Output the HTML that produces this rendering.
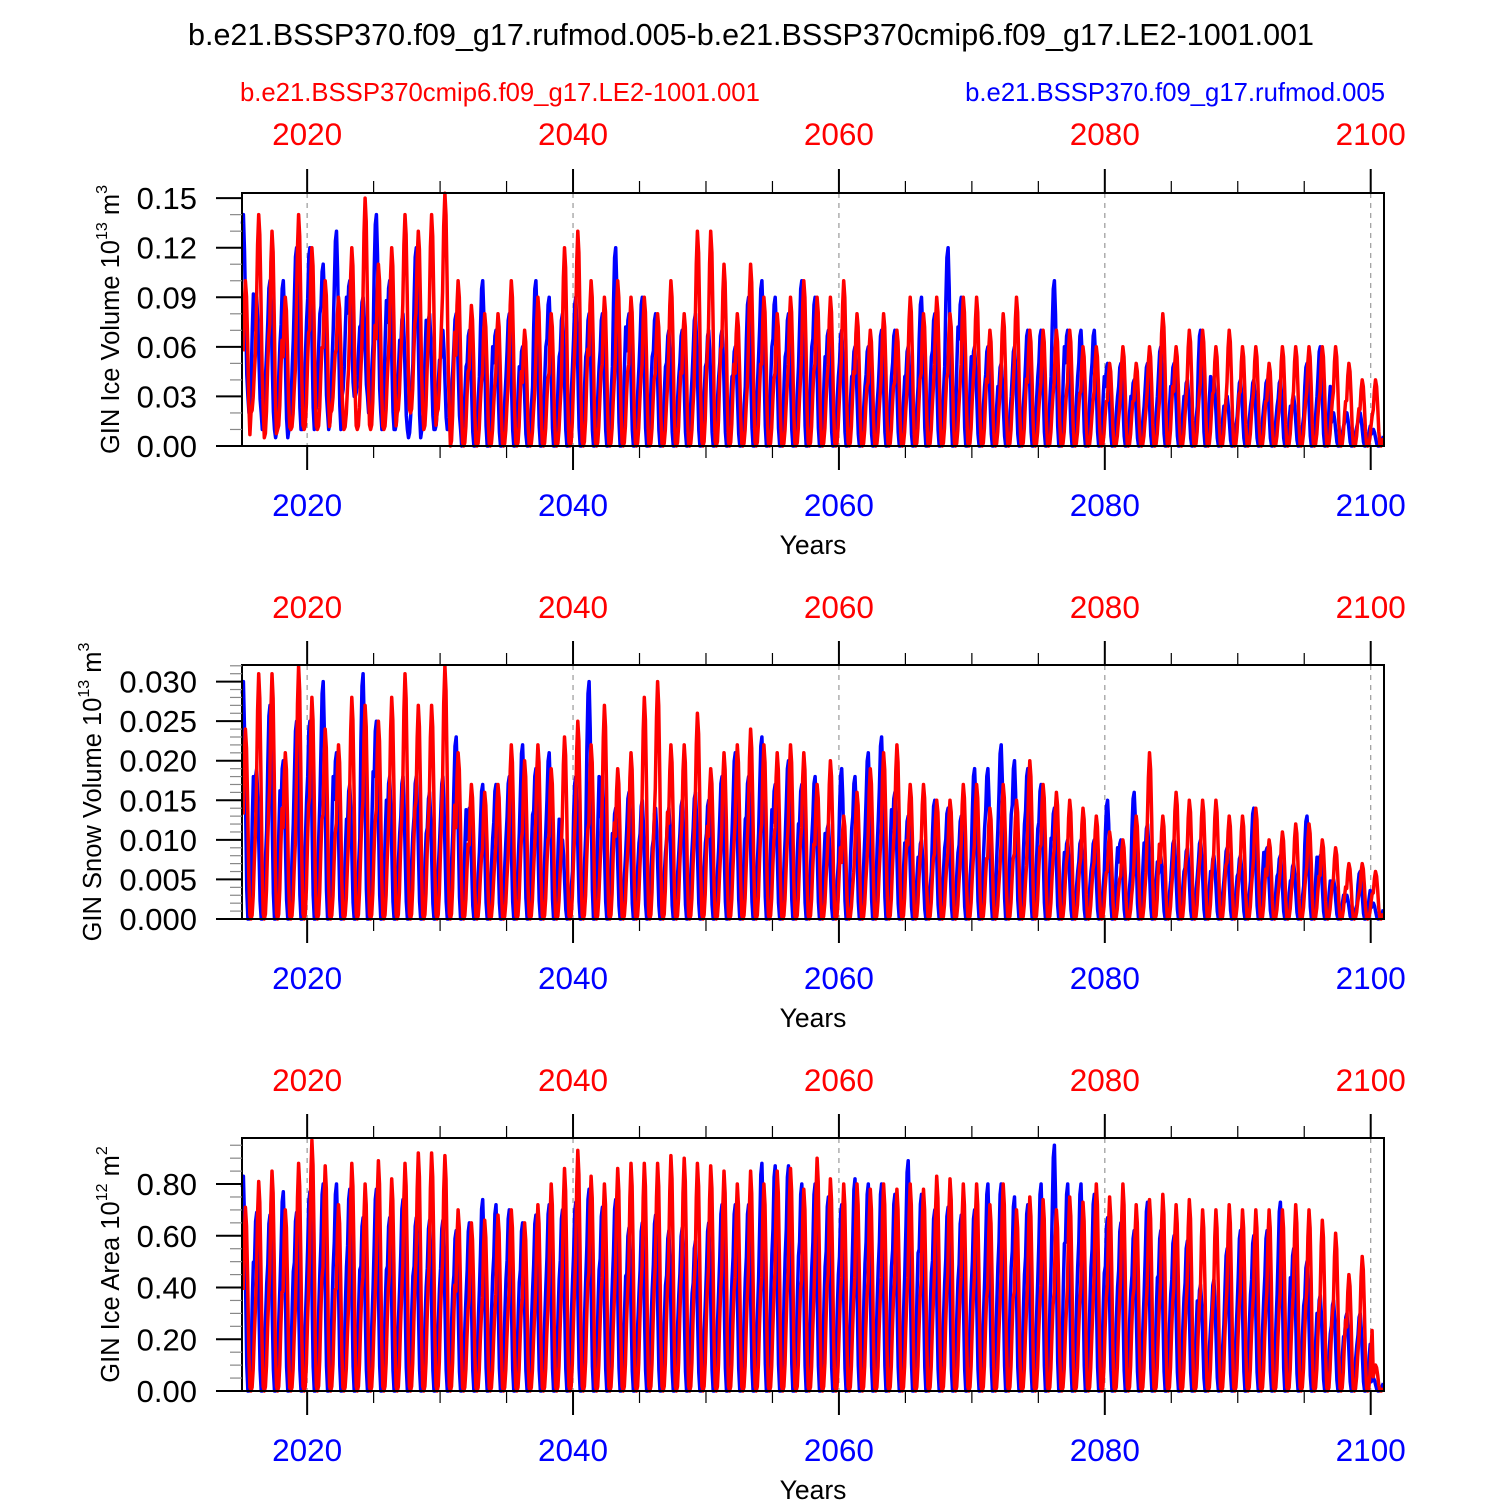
<!DOCTYPE html>
<html><head><meta charset="utf-8"><style>
html,body{margin:0;padding:0;background:#fff}
svg{display:block;font-family:"Liberation Sans",sans-serif}
</style></head><body>
<svg id="chart" width="1500" height="1500" viewBox="0 0 1500 1500" xmlns="http://www.w3.org/2000/svg">
<text x="751" y="45" font-size="30.5" text-anchor="middle">b.e21.BSSP370.f09_g17.rufmod.005-b.e21.BSSP370cmip6.f09_g17.LE2-1001.001</text>
<text x="240" y="101" font-size="25.7" fill="#f00">b.e21.BSSP370cmip6.f09_g17.LE2-1001.001</text>
<text x="1385" y="101" font-size="25.7" fill="#00f" text-anchor="end">b.e21.BSSP370.f09_g17.rufmod.005</text>
</svg>
<script>
const xTicks=[2020,2040,2060,2080,2100];
const climBlue=[0.72,0.95,1.0,0.8,0.45,0.12,0.0,0.0,0.04,0.18,0.42,0.6];
const climRed=[0.55,0.85,1.0,0.9,0.6,0.22,0.02,0.0,0.02,0.12,0.3,0.45];
const iceVolBlue=[0.14,0.09,0.10,0.10,0.12,0.12,0.11,0.13,0.10,0.09,0.14,0.10,0.08,0.12,0.08,0.07,0.08,0.07,0.10,0.07,0.08,0.06,0.10,0.09,0.08,0.09,0.08,0.08,0.12,0.08,0.09,0.08,0.07,0.07,0.08,0.07,0.07,0.06,0.09,0.10,0.09,0.08,0.10,0.09,0.07,0.07,0.06,0.06,0.07,0.07,0.06,0.09,0.08,0.12,0.09,0.06,0.06,0.05,0.06,0.07,0.07,0.10,0.07,0.07,0.07,0.05,0.05,0.04,0.05,0.06,0.05,0.04,0.07,0.04,0.03,0.04,0.04,0.04,0.04,0.03,0.05,0.06,0.02,0.02,0.02,0.01];
const iceVolRed=[0.10,0.14,0.13,0.09,0.14,0.12,0.10,0.09,0.12,0.15,0.11,0.12,0.14,0.13,0.14,0.153,0.10,0.085,0.08,0.08,0.10,0.07,0.09,0.08,0.12,0.13,0.10,0.09,0.10,0.09,0.09,0.08,0.10,0.08,0.13,0.13,0.11,0.08,0.11,0.09,0.08,0.09,0.10,0.09,0.09,0.10,0.08,0.07,0.08,0.07,0.09,0.08,0.09,0.08,0.09,0.09,0.07,0.08,0.09,0.07,0.07,0.07,0.07,0.06,0.06,0.05,0.06,0.05,0.06,0.08,0.06,0.07,0.07,0.06,0.07,0.06,0.06,0.05,0.06,0.06,0.06,0.06,0.06,0.05,0.04,0.04];
const iceVolMinBlue=[0.03,0.02,0.01,0.005,0.01,0.01,0.02,0.01,0.03,0.03,0.02,0.01,0.01,0.005,0.01,0.01,0.01];
const iceVolMinRed=[0.005,0.02,0.005,0.01,0.01,0.01,0.01,0.02,0.01,0.01,0.01,0.01,0.02,0.02,0.01,0.02,0.0];
const snowBlue=[0.030,0.019,0.027,0.020,0.025,0.025,0.030,0.021,0.017,0.031,0.025,0.018,0.018,0.018,0.016,0.018,0.023,0.014,0.017,0.017,0.018,0.022,0.019,0.021,0.010,0.018,0.030,0.018,0.014,0.016,0.015,0.014,0.014,0.015,0.016,0.015,0.018,0.021,0.018,0.023,0.017,0.020,0.017,0.018,0.012,0.019,0.018,0.021,0.023,0.016,0.013,0.010,0.015,0.014,0.013,0.019,0.019,0.022,0.020,0.019,0.017,0.014,0.010,0.010,0.010,0.015,0.010,0.016,0.012,0.008,0.010,0.009,0.010,0.008,0.009,0.008,0.014,0.009,0.008,0.007,0.013,0.008,0.005,0.003,0.006,0.002];
const snowRed=[0.024,0.031,0.031,0.021,0.032,0.028,0.024,0.022,0.028,0.027,0.025,0.028,0.031,0.027,0.027,0.032,0.021,0.017,0.016,0.017,0.022,0.020,0.022,0.019,0.023,0.025,0.022,0.027,0.019,0.021,0.028,0.030,0.022,0.022,0.026,0.019,0.021,0.022,0.024,0.022,0.021,0.022,0.021,0.017,0.020,0.013,0.016,0.019,0.021,0.022,0.017,0.017,0.015,0.015,0.017,0.017,0.014,0.017,0.015,0.020,0.017,0.016,0.015,0.014,0.013,0.011,0.010,0.013,0.021,0.013,0.016,0.015,0.015,0.015,0.013,0.013,0.014,0.010,0.011,0.012,0.012,0.010,0.009,0.007,0.007,0.006];
const areaBlue=[0.83,0.69,0.68,0.77,0.69,0.77,0.80,0.80,0.78,0.67,0.78,0.67,0.74,0.67,0.66,0.66,0.62,0.65,0.74,0.72,0.70,0.65,0.68,0.72,0.70,0.73,0.78,0.71,0.74,0.63,0.65,0.68,0.62,0.63,0.58,0.65,0.72,0.72,0.72,0.88,0.87,0.87,0.80,0.80,0.75,0.72,0.82,0.80,0.80,0.76,0.89,0.76,0.70,0.71,0.68,0.70,0.80,0.80,0.75,0.72,0.80,0.95,0.80,0.80,0.76,0.67,0.65,0.62,0.73,0.62,0.60,0.58,0.41,0.43,0.55,0.62,0.60,0.62,0.73,0.55,0.50,0.37,0.35,0.30,0.30,0.05];
const areaRed=[0.71,0.81,0.85,0.70,0.88,0.97,0.87,0.72,0.88,0.80,0.89,0.82,0.88,0.92,0.92,0.91,0.70,0.65,0.66,0.68,0.70,0.65,0.72,0.80,0.86,0.93,0.83,0.80,0.86,0.88,0.88,0.88,0.91,0.90,0.88,0.87,0.85,0.80,0.85,0.80,0.85,0.86,0.78,0.90,0.82,0.80,0.80,0.78,0.80,0.78,0.80,0.78,0.83,0.82,0.80,0.80,0.72,0.80,0.70,0.75,0.74,0.70,0.75,0.73,0.80,0.75,0.80,0.72,0.74,0.76,0.72,0.74,0.70,0.70,0.72,0.70,0.70,0.70,0.70,0.72,0.70,0.66,0.61,0.45,0.52,0.10];
const yTicks1=["0.00","0.03","0.06","0.09","0.12","0.15"];
const yTicks2=["0.000","0.005","0.010","0.015","0.020","0.025","0.030"];
const yTicks3=["0.00","0.20","0.40","0.60","0.80"];

const NS="http://www.w3.org/2000/svg";
const svg=document.getElementById('chart');
function mk(tag,attrs,parent){const e=document.createElementNS(NS,tag);for(const k in attrs)e.setAttribute(k,attrs[k]);(parent||svg).appendChild(e);return e;}
const X0=242,X1=1384,YR0=2015.1,YR1=2101.0;
function xS(t){return X0+(t-YR0)/(YR1-YR0)*(X1-X0);}

const panels=[
 {name:'ice-volume',top:193,bot:446,ymax:0.1531,step:0.03,minor:0.01,ticks:yTicks1,blue:iceVolBlue,red:iceVolRed,minB:iceVolMinBlue,minR:iceVolMinRed,label:'GIN Ice Volume 10',exp:'13',unit:' m',uexp:'3',topLab:145,botLab:516,years:554,tx:119},
 {name:'snow-volume',top:665,bot:919,ymax:0.0321,step:0.005,minor:0.001,ticks:yTicks2,blue:snowBlue,red:snowRed,minB:[],minR:[],label:'GIN Snow Volume 10',exp:'13',unit:' m',uexp:'3',topLab:618,botLab:989,years:1027,tx:101},
 {name:'ice-area',top:1138,bot:1391,ymax:0.978,step:0.2,minor:0.05,ticks:yTicks3,blue:areaBlue,red:areaRed,minB:[],minR:[],label:'GIN Ice Area 10',exp:'12',unit:' m',uexp:'2',topLab:1091,botLab:1461,years:1499,tx:119}
];

panels.forEach(p=>{
 const g=mk('g',{});
 
 
 const yS=v=>p.bot-v/p.ymax*(p.bot-p.top);
 xTicks.forEach(t=>{
  const l=mk('line',{x1:xS(t),x2:xS(t),y1:p.top,y2:p.bot,stroke:'#999','stroke-width':1.2,'stroke-dasharray':'5,5'},g);
  
  
 });
 function series(arr,mins,clim,phase,color,nm){
  let d='';
  for(let i=0;i<arr.length;i++){
   const mn=i<mins.length?mins[i]:0;
   const mnNext=i+1<mins.length?mins[i+1]:0;
   for(let m=0;m<12;m++){
    const t=2015+i+(m+0.5)/12+phase;
    const lo=m<7?mn:mnNext;
    const v=lo+(arr[i]-lo)*clim[m];
    const x=xS(t);if(x<X0||x>X1)continue;
    d+=(d?'L':'M')+x.toFixed(1)+','+yS(v).toFixed(1);
   }
  }
  const path=mk('path',{d:d,fill:'none',stroke:color,'stroke-width':3.5,'stroke-linejoin':'round'},g);
  
  
 }
 series(p.blue,p.minB,climBlue,0,'#00f',p.name+'-blue-line');
 series(p.red,p.minR,climRed,0.15,'#f00',p.name+'-red-line');
 const fr=mk('rect',{x:X0,y:p.top,width:X1-X0,height:p.bot-p.top,fill:'none',stroke:'#000','stroke-width':2},g);
 
 
 for(let yr=2020;yr<=2100;yr+=5){
  const major=yr%20===0;
  const L=major?24:12;
  mk('line',{x1:xS(yr),x2:xS(yr),y1:p.bot,y2:p.bot+L,stroke:'#000','stroke-width':major?2:1.2},g);
  mk('line',{x1:xS(yr),x2:xS(yr),y1:p.top,y2:p.top-L,stroke:'#000','stroke-width':major?2:1.2},g);
 }
 xTicks.forEach(t=>{
  const a=mk('text',{x:xS(t),y:p.topLab,'font-size':31.5,fill:'#f00','text-anchor':'middle'},g);a.textContent=t;
  
  
  const b=mk('text',{x:xS(t),y:p.botLab,'font-size':31.5,fill:'#00f','text-anchor':'middle'},g);b.textContent=t;
  
  
 });
 const yl=mk('text',{x:813,y:p.years,'font-size':26.5,'text-anchor':'middle'},g);yl.textContent='Years';
 
 
 for(let v=0;v<=p.ymax+1e-9;v+=p.minor){
  mk('line',{x1:X0,x2:X0-12,y1:yS(v),y2:yS(v),stroke:'#888','stroke-width':1.2},g);
 }
 p.ticks.forEach(s=>{
  const v=parseFloat(s);
  mk('line',{x1:X0,x2:X0-26,y1:yS(v),y2:yS(v),stroke:'#000','stroke-width':2},g);
  const t=mk('text',{x:X0-45,y:yS(v)+11,'font-size':31,'text-anchor':'end'},g);t.textContent=s;
  
  
 });
 const cy=(p.top+p.bot)/2;
 const tt=mk('text',{x:0,y:0,'font-size':25.5,'text-anchor':'middle',transform:`translate(${p.tx},${cy}) rotate(-90)`},g);
 
 
 tt.innerHTML=p.label+'<tspan font-size="16" dy="-12">'+p.exp+'</tspan><tspan dy="12">'+p.unit+'</tspan><tspan font-size="16" dy="-12">'+p.uexp+'</tspan>';
});
</script>
</body></html>
